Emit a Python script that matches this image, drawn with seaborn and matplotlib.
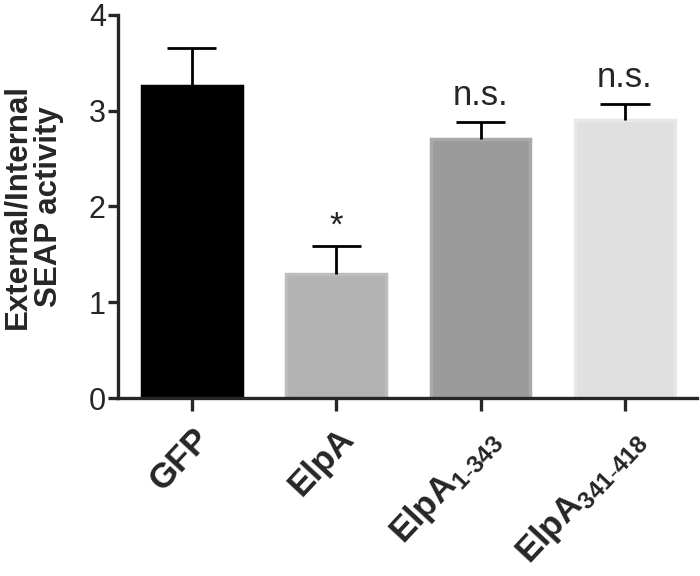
import matplotlib
matplotlib.use("Agg")
import matplotlib.pyplot as plt
import seaborn as sns

# data
labels = ["GFP", "ElpA", r"ElpA$_{\mathregular{1\text{-}343}}$", r"ElpA$_{\mathregular{341\text{-}418}}$"]
means = [3.26, 1.29, 2.71, 2.90]
errors = [0.39, 0.30, 0.17, 0.17]
signif = ["", "*", "n.s.", "n.s."]
fills = ["#000000", "#b3b3b3", "#9b9b9b", "#e0e0e0"]
edges = ["#000000", "#bdbdbd", "#a9a9a9", "#e8e8e8"]

sns.set_style("ticks")
plt.rcParams["font.family"] = ["Liberation Sans", "DejaVu Sans"]
plt.rcParams["mathtext.fontset"] = "custom"
plt.rcParams["mathtext.rm"] = "Liberation Sans"
plt.rcParams["mathtext.bf"] = "Liberation Sans:bold"

fig = plt.figure(figsize=(7, 5.76), dpi=100)
ax = fig.add_axes([0.169, 0.309, 0.827, 0.665])

sns.barplot(x=labels, y=means, hue=labels, palette=fills, legend=False,
            width=0.69, saturation=1, ax=ax)
for bar, ec in zip(ax.patches, edges):
    bar.set_edgecolor(ec)
    bar.set_linewidth(2.5)

# upper-only error bars
xs = list(range(len(means)))
tops = [m + e for m, e in zip(means, errors)]
ax.vlines(xs, means, tops, color="black", lw=2)
ax.hlines(tops, [x - 0.17 for x in xs], [x + 0.17 for x in xs], color="black", lw=2)

for x, t, s in zip(xs, tops, signif):
    if s == "*":
        ax.text(x, t + 0.11, s, ha="center", va="baseline", fontsize=25)
    elif s:
        ax.text(x, t + 0.18, s, ha="center", va="baseline", fontsize=25)

ax.set_ylim(0, 4)
ax.set_xlim(-0.51, 3.5)
ax.set_yticks([0, 1, 2, 3, 4])
ax.set_ylabel("External/Internal\nSEAP activity", fontsize=22.5, fontweight="bold",
              labelpad=18, linespacing=1.05)
ax.tick_params(axis="y", labelsize=22, width=2.4, length=7, pad=2)
ax.tick_params(axis="x", labelsize=25, width=2.4, length=9, pad=8)
for lab in ax.get_xticklabels():
    lab.set_rotation(47)
    lab.set_ha("right")
    lab.set_rotation_mode("anchor")
    lab.set_fontweight("bold")
for side in ["left", "bottom"]:
    ax.spines[side].set_linewidth(2.4)
sns.despine(ax=ax)

fig.savefig("out.png", dpi=100)
